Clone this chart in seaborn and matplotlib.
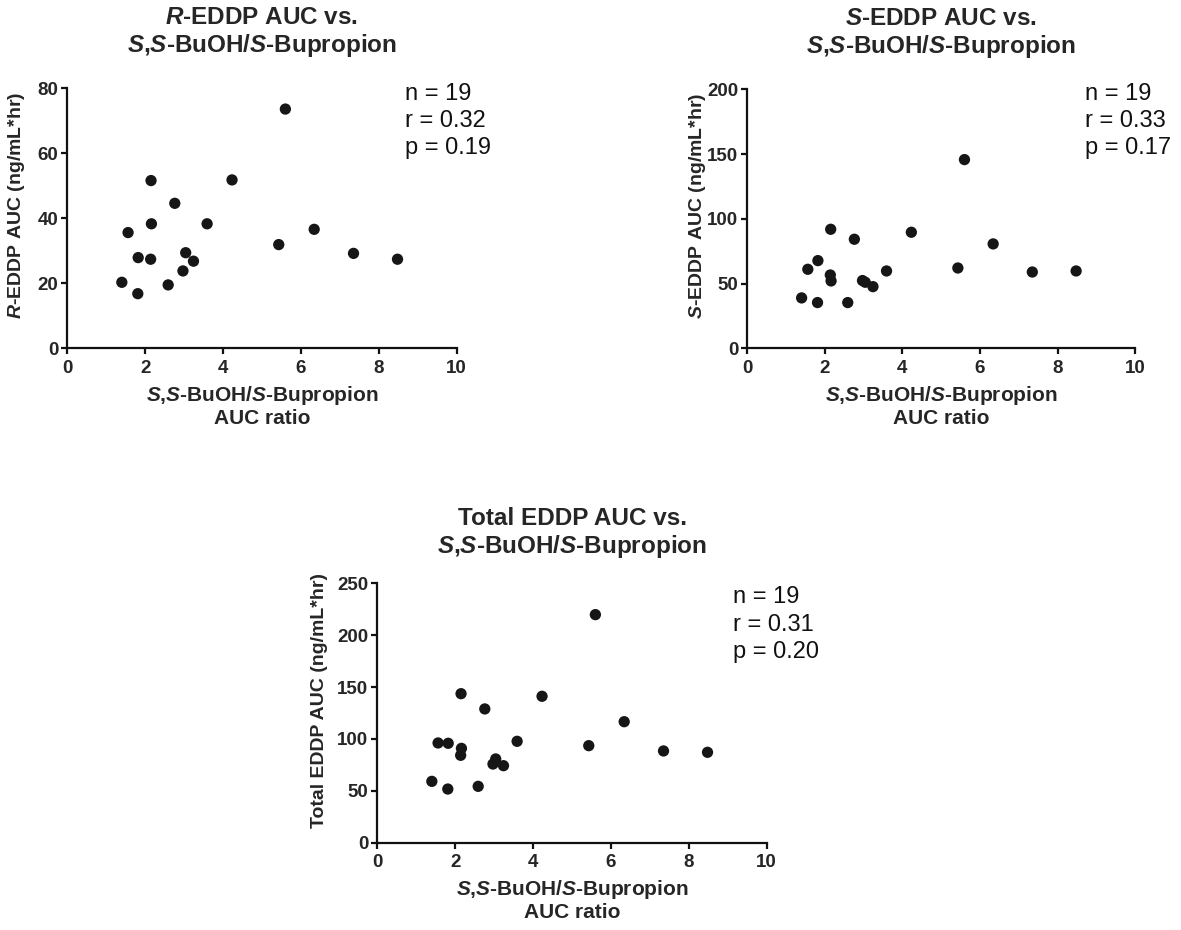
import matplotlib
matplotlib.use("Agg")
import matplotlib.pyplot as plt
import seaborn as sns
import pandas as pd

# ---- data ----
ratio = [1.40, 1.56, 1.81, 1.82, 2.15, 2.16, 2.14, 2.59, 2.76, 2.97,
         3.04, 3.24, 3.59, 4.23, 5.43, 5.60, 6.34, 7.35, 8.48]
r_eddp = [20.3, 35.6, 16.8, 27.9, 51.6, 38.3, 27.4, 19.5, 44.6, 23.8,
          29.4, 26.8, 38.3, 51.8, 31.9, 73.6, 36.6, 29.2, 27.4]
s_eddp = [38.9, 61.0, 35.3, 67.7, 91.9, 52.0, 56.6, 35.3, 84.2, 52.3,
          51.0, 47.6, 59.7, 89.6, 62.0, 145.7, 80.6, 58.9, 59.7]
total_eddp = [59.1, 96.1, 51.7, 95.8, 143.6, 90.9, 84.2, 54.3, 128.9, 75.8,
              80.7, 74.2, 97.7, 141.1, 93.5, 219.8, 116.6, 88.4, 87.1]

ss = r"$\mathbfit{S}$,$\mathbfit{S}$-BuOH/$\mathbfit{S}$-Bupropion"
titles = [r"$\mathbfit{R}$-EDDP AUC vs." + "\n" + ss,
          r"$\mathbfit{S}$-EDDP AUC vs." + "\n" + ss,
          "Total EDDP AUC vs." + "\n" + ss]
ylabels = [r"$\mathbfit{R}$-EDDP AUC (ng/mL*hr)",
           r"$\mathbfit{S}$-EDDP AUC (ng/mL*hr)",
           "Total EDDP AUC (ng/mL*hr)"]
xlabel = ss + "\nAUC ratio"
stats = ["n = 19\nr = 0.32\np = 0.19",
         "n = 19\nr = 0.33\np = 0.17",
         "n = 19\nr = 0.31\np = 0.20"]
ymax = [80, 200, 250]
ystep = [20, 50, 50]
xticks = [0, 2, 4, 6, 8, 10]

sns.set_style("ticks")
plt.rcParams["font.family"] = ["Liberation Sans", "DejaVu Sans"]
plt.rcParams["mathtext.fontset"] = "custom"
plt.rcParams["mathtext.rm"] = "Liberation Sans:bold"
plt.rcParams["mathtext.bf"] = "Liberation Sans:bold"
plt.rcParams["mathtext.it"] = "Liberation Sans:italic:bold"
plt.rcParams["mathtext.bfit"] = "Liberation Sans:bold:italic"

fig = plt.figure(figsize=(11.81, 9.30), dpi=100)
positions = [[0.0570, 0.6255, 0.3297, 0.2796],
             [0.6328, 0.6255, 0.3283, 0.2785],
             [0.3195, 0.0939, 0.3297, 0.2789]]
stat_pos = [(0.867, 1.02), (0.871, 1.024), (0.914, 0.988)]
ylabel_x = [-0.1035, -0.101, -0.127]
pads = [26, 26, 22]
ys = [r_eddp, s_eddp, total_eddp]

for i in range(3):
    ax = fig.add_axes(positions[i])
    df = pd.DataFrame({"x": ratio, "y": ys[i]})
    sns.scatterplot(data=df, x="x", y="y", ax=ax, s=66, color="#161616",
                    edgecolor="none", linewidth=0, clip_on=False)
    ax.set_xlim(0, 10)
    ax.set_ylim(0, ymax[i])
    ax.set_xticks(xticks)
    ax.set_yticks(list(range(0, ymax[i] + 1, ystep[i])))
    sns.despine(ax=ax)
    for sp in ["left", "bottom"]:
        ax.spines[sp].set_linewidth(1.6)
        ax.spines[sp].set_color("#111111")
    ax.tick_params(axis="both", direction="out", length=4.5, width=1.6,
                   color="#111111", labelsize=13.5)
    ax.tick_params(axis="x", pad=4)
    ax.tick_params(axis="y", pad=2)
    for lab in ax.get_xticklabels() + ax.get_yticklabels():
        lab.set_fontweight("bold")
    ax.set_xlabel(xlabel, fontsize=15, fontweight="bold", labelpad=5,
                  linespacing=1.1)
    ax.set_ylabel(ylabels[i], fontsize=14, fontweight="bold")
    ax.yaxis.set_label_coords(ylabel_x[i], 0.55)
    ax.set_title(titles[i], fontsize=17.5, fontweight="bold", pad=pads[i],
                 linespacing=1.15)
    ax.text(stat_pos[i][0], stat_pos[i][1], stats[i], transform=ax.transAxes,
            ha="left", va="top", fontsize=17, linespacing=1.3, color="#111111")

fig.savefig("out.png", dpi=100)
